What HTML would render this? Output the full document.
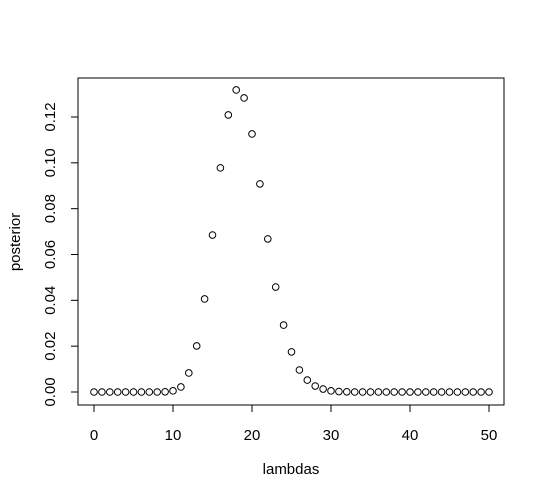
<!DOCTYPE html>
<html><head><meta charset="utf-8"><style>
body{margin:0;background:#fff}
svg{display:block;font-family:"Liberation Sans",Arial,sans-serif}
</style></head><body>
<svg id="chart" width="545" height="503">
<rect x="78" y="78" width="426" height="327" fill="none" stroke="#000" stroke-width="1"/>
<g id="xaxis"></g>
<g id="yaxis"></g>
<g id="points"></g>
<text x="291" y="474" font-size="15" text-anchor="middle">lambdas</text>
<text transform="translate(20,242) rotate(-90)" font-size="15" text-anchor="middle">posterior</text>
</svg>
<script>
const lambdas=[];for(let i=0;i<=50;i++)lambdas.push(i);
const posterior=[0,0,0,0,0,0,0,0,0,0.0001,0.0005,0.0022,0.0083,0.0201,0.0406,0.0685,0.0978,0.1209,0.1318,0.1283,0.1126,0.0908,0.0668,0.0458,0.0292,0.0175,0.0096,0.0052,0.0026,0.0013,0.0005,0.0002,0.0001,0,0,0,0,0,0,0,0,0,0,0,0,0,0,0,0,0,0];
const xTicks=[0,10,20,30,40,50];
const yTicks=[0,0.02,0.04,0.06,0.08,0.10,0.12];
const yTickLabels=["0.00","0.02","0.04","0.06","0.08","0.10","0.12"];
const NS="http://www.w3.org/2000/svg";
const sx=v=>94+v*(489-94)/50;
const sy=v=>392-v*(275/0.12);
const xa=document.getElementById('xaxis'),ya=document.getElementById('yaxis'),pg=document.getElementById('points');
function mk(t,a,p){const e=document.createElementNS(NS,t);for(const k in a)e.setAttribute(k,a[k]);p.appendChild(e);return e;}
let l=mk('line',{x1:sx(0),x2:sx(50),y1:405,y2:405,stroke:'#000'},xa);
xTicks.forEach(v=>{
 let t=mk('line',{x1:sx(v),x2:sx(v),y1:405,y2:412,stroke:'#000'},xa);
 
 
 let s=mk('text',{x:sx(v),y:440,'font-size':15,'text-anchor':'middle'},xa);s.textContent=v;
 
 
});
mk('line',{x1:78,x2:78,y1:sy(0),y2:sy(0.12),stroke:'#000'},ya);
yTicks.forEach((v,i)=>{
 let t=mk('line',{x1:71,x2:78,y1:sy(v),y2:sy(v),stroke:'#000'},ya);
 
 
 let s=mk('text',{transform:`translate(55,${sy(v)}) rotate(-90)`,'font-size':15,'text-anchor':'middle'},ya);s.textContent=yTickLabels[i];
 
 
});
lambdas.forEach((x,i)=>{
 let c=mk('circle',{cx:sx(x),cy:sy(posterior[i]),r:3.3,fill:'none',stroke:'#000','stroke-width':1},pg);
 
 
});
</script>
</body></html>
